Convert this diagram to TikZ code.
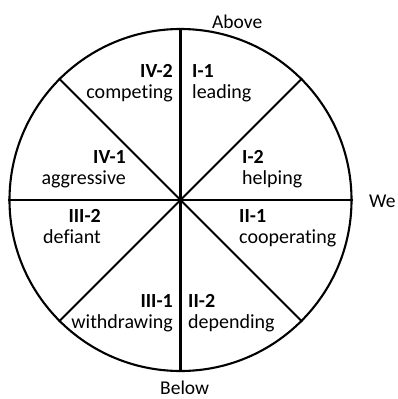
\documentclass[tikz,border=0pt]{standalone}
\usepackage{fontspec}
\setmainfont{Carlito}[Ligatures=NoCommon]
\tikzset{
  seg/.style={line width=2.1pt},
  code/.style={inner sep=0pt,font=\fontsize{20}{24}\selectfont\bfseries},
  word/.style={inner sep=0pt,font=\fontsize{20}{24}\selectfont},
  side/.style={inner sep=0pt,font=\fontsize{19.5}{24}\selectfont}
}
\begin{document}
\begin{tikzpicture}[x=1pt,y=-1pt]
        \useasboundingbox (0,0) rectangle (397,399);
        \node[draw,circle,seg,inner sep=0pt,minimum size=342pt] (wheel) at (180.5,200) {};
        \draw[seg] (wheel.north) -- (wheel.south);
        \draw[seg] (wheel.west) -- (wheel.east);
        \draw[seg] (wheel.45) -- (wheel.225);
        \draw[seg] (wheel.135) -- (wheel.315);
        % sector labels
        \node[code,anchor=base east] (iv2) at (173,77) {IV-2};
        \node[word,anchor=base east] (competing) at (173,98) {competing};
        \node[code,anchor=base west] (i1) at (192,77) {I-1};
        \node[word,anchor=base west] (leading) at (192,98) {leading};
        \node[code,anchor=base east] (iv1) at (126,163) {IV-1};
        \node[word,anchor=base east] (aggressive) at (126,184) {aggressive};
        \node[code,anchor=base west] (i2) at (242,163) {I-2};
        \node[word,anchor=base west] (helping) at (242,184) {helping};
        \node[code,anchor=base east] (iii2) at (101,222) {III-2};
        \node[word,anchor=base east] (defiant) at (101,243) {defiant};
        \node[code,anchor=base west] (ii1) at (239,222) {II-1};
        \node[word,anchor=base west] (cooperating) at (239,243) {cooperating};
        \node[code,anchor=base east] (iii1) at (173,307) {III-1};
        \node[word,anchor=base east] (withdrawing) at (173,328) {withdrawing};
        \node[code,anchor=base west] (ii2) at (188,307) {II-2};
        \node[word,anchor=base west] (depending) at (188,328) {depending};
        % axis names
        \node[side,anchor=base west] (above) at (212,28) {Above};
        \node[side,anchor=base west] (we) at (369,207) {We};
        \node[side,anchor=base west] (below) at (160,394) {Below};
    \end{tikzpicture}
\end{document}
